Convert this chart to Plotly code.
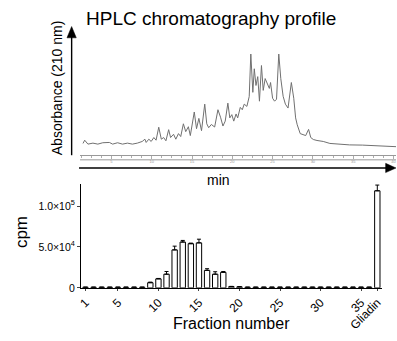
import plotly.graph_objects as go

# ---------------- data ----------------
# HPLC chromatogram (time in min, absorbance in arbitrary units)
time_min = [1.47, 1.68, 2.08, 2.70, 3.31, 3.92, 4.74, 5.15, 5.76, 6.37, 6.99, 7.60, 8.21, 8.82,
            9.15, 9.31, 9.64, 9.93, 10.26, 10.54, 10.87, 11.19, 11.48, 11.76, 12.10, 12.34,
            12.71, 12.99, 13.32, 13.60, 13.93, 14.22, 14.55, 14.79, 15.28, 15.56, 15.85, 16.18,
            16.58, 16.83, 17.07, 17.40, 17.81, 18.22, 18.54, 18.84, 19.12, 19.45, 19.69, 19.94,
            20.18, 20.47, 20.67, 20.99, 21.24, 21.48, 21.81, 22.10, 22.30, 22.55, 22.73, 22.94,
            23.16, 23.37, 23.62, 23.84, 24.08, 24.35, 24.60, 24.75, 25.00, 25.25, 25.49, 25.77,
            26.02, 26.31, 26.59, 26.92, 27.33, 27.63, 27.86, 28.06, 28.43, 29.11, 29.47, 29.74,
            30.06, 30.51, 30.88, 31.29, 32.11, 32.93, 33.33, 34.56, 36.15, 38.24, 40.32]
absorbance = [4, 7.3, 3.3, 4.3, 3.3, 4.7, 5, 3.3, 4.7, 3.3, 4.3, 3.3, 4.3, 6,
              8.3, 5, 8.3, 6, 10, 7.3, 20.5, 8.3, 10, 6.7, 18, 10,
              13.3, 8.3, 14, 11, 24, 16, 21, 12, 36, 19, 29.5, 17,
              44, 24, 20, 23.3, 20.7, 38.3, 30.7, 21.7, 26.7, 45, 30, 33.3,
              26.7, 34, 30, 40.7, 38.3, 44, 41.7, 51.7, 95, 56, 80, 63,
              72, 47, 83.3, 58, 70, 65, 60, 66, 50, 47, 49, 95,
              70, 52, 44, 40, 66, 50, 30, 23, 14, 12, 18.3, 10,
              8, 7, 6.5, 6, 4, 3.3, 3, 2.5, 2.3, 1.7, 0.7]

# Fraction radioactivity
fractions = [str(i) for i in range(1, 37)] + ["Gliadin"]
cpm_mean = [700, 700, 700, 700, 700, 700, 700, 700,
            6300, 11000, 16700, 46400, 56000, 54000, 55000, 21400, 16700, 19000,
            1500, 1200,
            700, 700, 700, 700, 700, 700, 700, 700, 700, 700, 700, 700, 700, 700, 700, 700,
            118700]
cpm_err = [200, 200, 200, 200, 200, 200, 200, 200,
           700, 500, 3300, 4600, 2000, 700, 4500, 2000, 3000, 1000,
           300, 300,
           200, 200, 200, 200, 200, 200, 200, 200, 200, 200, 200, 200, 200, 200, 200, 200,
           7000]
x_tick_labels = ["1", "5", "10", "15", "20", "25", "30", "35", "Gliadin"]
y_tick_vals = [0, 50000, 100000]
y_tick_text = ["0", "5.0×10<sup>4</sup>", "1.0×10<sup>5</sup>"]

# ---------------- layout helpers ----------------
W, H = 397, 341
FONT = "Liberation Sans, Arial, sans-serif"


def px(x):
    return x / W


def py(y):
    return 1 - y / H


x_idx = list(range(len(fractions)))
x_tick_idx = [fractions.index(t) for t in x_tick_labels]

fig = go.Figure()

# chromatogram
fig.add_trace(go.Scatter(x=time_min, y=absorbance, mode="lines",
                         line=dict(color="#707070", width=1),
                         xaxis="x2", yaxis="y2", showlegend=False, hoverinfo="skip"))

# bars
fig.add_trace(go.Bar(x=x_idx, y=cpm_mean, width=0.66,
                     marker=dict(color="white", line=dict(color="black", width=1)),
                     error_y=dict(type="data", array=cpm_err,
                                  arrayminus=[0] * len(cpm_err), symmetric=False,
                                  color="black", thickness=1, width=2),
                     xaxis="x", yaxis="y", showlegend=False, hoverinfo="skip"))

fig.update_layout(
    width=W, height=H,
    margin=dict(l=0, r=0, t=0, b=0),
    paper_bgcolor="white", plot_bgcolor="white",
    font=dict(family=FONT, color="black"),
    hovermode=False,
    xaxis=dict(domain=[px(78), px(383)], range=[-0.55, 36.6],
               tickvals=x_tick_idx, ticktext=x_tick_labels, tickangle=-45,
               tickfont=dict(size=12), ticks="outside", ticklen=2,
               showline=True, linecolor="black", linewidth=1,
               showgrid=False, zeroline=False, anchor="y"),
    yaxis=dict(domain=[py(293), py(187.3)], range=[0, 127000],
               tickvals=y_tick_vals, ticktext=y_tick_text, tickfont=dict(size=10.5),
               ticks="outside", ticklen=3, showline=True, linecolor="black",
               linewidth=1, showgrid=False, zeroline=False, anchor="x"),
    xaxis2=dict(domain=[px(77), 1.0], range=[1.10, 40.32],
                tick0=0, dtick=5, ticks="outside", ticklen=3, tickwidth=0.8,
                tickcolor="#999999", tickfont=dict(size=4, color="#999999"),
                minor=dict(ticks="outside", ticklen=2, dtick=1.25, tick0=0,
                           tickcolor="#999999", tickwidth=0.8),
                showline=True, linecolor="#999999", linewidth=1,
                showgrid=False, zeroline=False, anchor="y2"),
    yaxis2=dict(domain=[py(157.3), py(55)], range=[-7.3, 95],
                visible=False, anchor="x2"),
)

shapes = [
    # second ruler line
    dict(type="line", xref="paper", yref="paper", x0=px(77), x1=1.0,
         y0=py(162.7), y1=py(162.7), line=dict(color="#999999", width=1)),
    # vertical arrow shaft + head
    dict(type="line", xref="paper", yref="paper", x0=px(68.5), x1=px(68.5),
         y0=py(158), y1=py(36), line=dict(color="black", width=1.4)),
    dict(type="path", xref="paper", yref="paper",
         path=f"M {px(63.8)} {py(38.5)} L {px(68.5)} {py(27)} L {px(73.2)} {py(38.5)} Z",
         fillcolor="black", line=dict(color="black", width=0.5)),
    # horizontal arrow shaft + head
    dict(type="line", xref="paper", yref="paper", x0=px(76), x1=px(388),
         y0=py(171), y1=py(171), line=dict(color="black", width=1.4)),
    dict(type="path", xref="paper", yref="paper",
         path=f"M {px(386.5)} {py(166.3)} L {px(397)} {py(171)} L {px(386.5)} {py(175.7)} Z",
         fillcolor="black", line=dict(color="black", width=0.5)),
]

annotations = [
    dict(x=px(81), y=py(18.5), xref="paper", yref="paper", xanchor="left",
         yanchor="middle", showarrow=False, text="HPLC chromatography profile",
         font=dict(size=19)),
    dict(x=px(54.5), y=py(89), xref="paper", yref="paper", textangle=-90,
         xanchor="center", yanchor="middle",
         showarrow=False, text="Absorbance (210 nm)", font=dict(size=14)),
    dict(x=px(217), y=py(183.5), xref="paper", yref="paper",
         xanchor="center", yanchor="middle",
         showarrow=False, text="min", font=dict(size=14)),
    dict(x=px(18.5), y=py(236), xref="paper", yref="paper", textangle=-90,
         xanchor="center", yanchor="middle",
         showarrow=False, text="cpm", font=dict(size=17)),
    dict(x=px(230.5), y=py(329), xref="paper", yref="paper",
         xanchor="center", yanchor="middle",
         showarrow=False, text="Fraction number", font=dict(size=16)),
]
fig.update_layout(shapes=shapes, annotations=annotations)

page_fix = (
    "var s=document.createElement('style');"
    "s.innerHTML='html,body{margin:0;padding:0;width:397px;height:341px;overflow:hidden;}"
    ".svg-container{display:block !important;}"
    ".plotly-graph-div{display:block;}';"
    "document.head.appendChild(s);"
)
fig.write_html("out.html", config={"displayModeBar": False, "staticPlot": True},
               post_script=page_fix)
